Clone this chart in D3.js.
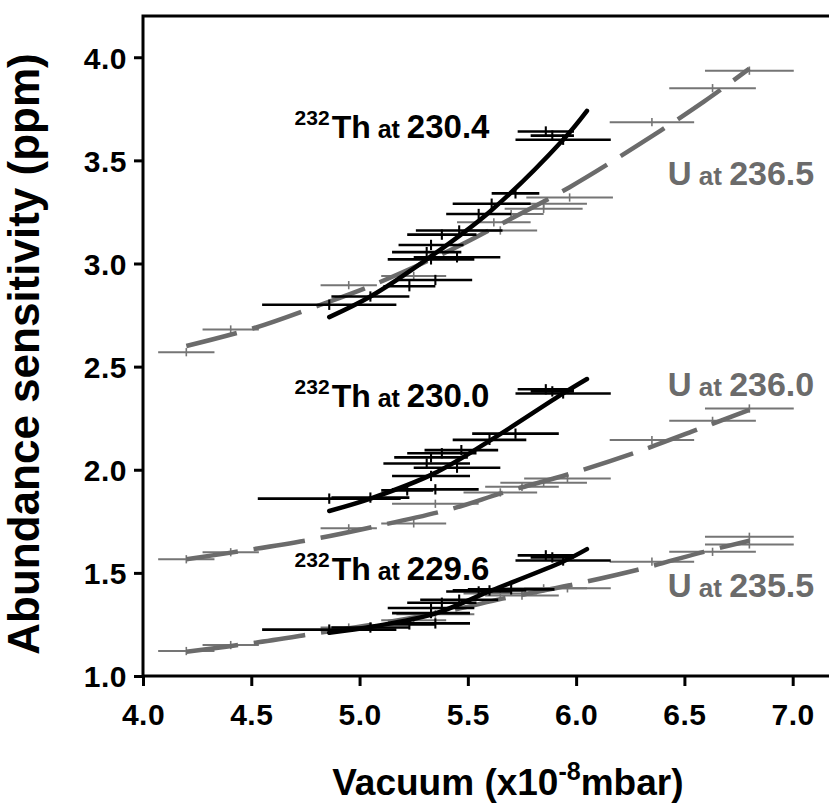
<!DOCTYPE html>
<html><head><meta charset="utf-8">
<script src="https://cdn.jsdelivr.net/npm/d3@7"></script>
<style>body{margin:0;background:#fff}svg{display:block}text{font-family:"Liberation Sans",Arial,sans-serif;font-weight:bold}</style>
</head><body>
<script>
// ---- data: [x (1e-8 mbar), abundance sensitivity (ppm), x error] ----
const th2304 = [[4.86,2.80,0.31],[5.05,2.84,0.18],[5.23,2.89,0.12],[5.35,2.92,0.17],[5.33,3.02,0.20],[5.45,3.03,0.20],[5.31,3.055,0.16],[5.33,3.09,0.15],[5.38,3.14,0.16],[5.46,3.16,0.20],[5.55,3.24,0.15],[5.61,3.29,0.18],[5.72,3.34,0.11],[5.86,3.64,0.13],[5.89,3.62,0.10],[5.94,3.60,0.22]];
const th2300 = [[4.86,1.86,0.33],[5.05,1.865,0.18],[5.22,1.90,0.12],[5.35,1.905,0.20],[5.33,1.97,0.18],[5.45,2.01,0.20],[5.31,2.03,0.20],[5.33,2.06,0.17],[5.38,2.08,0.16],[5.47,2.095,0.17],[5.60,2.145,0.17],[5.72,2.175,0.20],[5.86,2.39,0.13],[5.89,2.38,0.10],[5.94,2.37,0.22]];
const th2296 = [[4.86,1.225,0.31],[5.05,1.235,0.18],[5.23,1.25,0.12],[5.35,1.255,0.16],[5.33,1.305,0.18],[5.33,1.33,0.20],[5.38,1.355,0.16],[5.46,1.37,0.18],[5.55,1.41,0.15],[5.60,1.415,0.17],[5.70,1.42,0.20],[5.86,1.585,0.13],[5.89,1.575,0.10],[5.94,1.56,0.22]];
const u2365 = [[4.20,2.57,0.13],[4.405,2.68,0.13],[4.95,2.895,0.13],[5.25,2.94,0.15],[5.65,3.16,0.17],[5.62,3.20,0.17],[5.70,3.24,0.15],[5.85,3.265,0.18],[5.85,3.29,0.20],[5.97,3.32,0.20],[6.35,3.685,0.195],[6.63,3.85,0.20],[6.80,3.935,0.205]];
const u2360 = [[4.20,1.566,0.13],[4.405,1.60,0.13],[4.95,1.716,0.13],[5.25,1.74,0.15],[5.35,1.835,0.20],[5.65,1.89,0.17],[5.75,1.917,0.17],[5.85,1.937,0.20],[5.96,1.958,0.20],[6.35,2.144,0.195],[6.63,2.237,0.20],[6.80,2.297,0.205]];
const u2355 = [[4.20,1.121,0.13],[4.405,1.15,0.13],[4.95,1.235,0.13],[5.25,1.27,0.15],[5.35,1.30,0.18],[5.65,1.40,0.17],[5.75,1.39,0.17],[5.85,1.425,0.20],[5.96,1.425,0.20],[6.35,1.554,0.195],[6.63,1.602,0.20],[6.80,1.638,0.205],[6.80,1.675,0.205]];
// fitted trend curves
const fitTh2304 = [[4.86,2.74],[5.05,2.84],[5.31,3.02],[5.60,3.25],[5.94,3.60],[6.05,3.74]];
const fitTh2300 = [[4.86,1.80],[5.05,1.86],[5.34,1.98],[5.60,2.14],[5.94,2.37],[6.05,2.44]];
const fitTh2296 = [[4.86,1.21],[5.06,1.24],[5.34,1.30],[5.61,1.415],[5.94,1.555],[6.05,1.615]];
const fitU2365 = [[4.20,2.60],[4.51,2.686],[4.82,2.80],[5.06,2.895],[5.43,3.07],[5.66,3.195],[5.97,3.37],[6.28,3.57],[6.59,3.785],[6.80,3.945]];
const fitU2360 = [[4.20,1.566],[4.51,1.615],[4.82,1.67],[5.05,1.72],[5.43,1.812],[5.66,1.888],[5.97,1.98],[6.28,2.086],[6.59,2.207],[6.80,2.29]];
const fitU2355 = [[4.20,1.118],[4.51,1.16],[4.82,1.21],[5.05,1.247],[5.43,1.32],[5.66,1.375],[5.97,1.44],[6.28,1.514],[6.59,1.602],[6.80,1.656]];
const xTicks = [4.0,4.5,5.0,5.5,6.0,6.5,7.0];
const yTicks = [1.0,1.5,2.0,2.5,3.0,3.5,4.0];
const thLabels = [{iso:"232",el:"Th",at:"230.4",x:4.70,y:3.608},{iso:"232",el:"Th",at:"230.0",x:4.70,y:2.304},{iso:"232",el:"Th",at:"229.6",x:4.70,y:1.465}];
const uLabels = [{el:"U",at:"236.5",x:6.423,y:3.38},{el:"U",at:"236.0",x:6.423,y:2.357},{el:"U",at:"235.5",x:6.423,y:1.384}];
const yErrBlack = 0.025, yErrGray = 0.02;

const W = 829, H = 807;
const m = {left:143, top:16, right:-7, bottom:131};
const svg = d3.select("body").append("svg").attr("width",W).attr("height",H);
const x = d3.scaleLinear().domain([4.0,7.2]).range([m.left, W - m.right]);
const y = d3.scaleLinear().domain([1.0,4.2]).range([H - m.bottom, m.top]);
const BLACK = "#000", GRAY = "#6b6b6b", GRAYBAR = "#757575";

// frame
svg.append("rect").attr("x",x(4)).attr("y",y(4.2)).attr("width",x(7.2)-x(4)).attr("height",y(1)-y(4.2))
  .attr("fill","none").attr("stroke","#000").attr("stroke-width",3);

// axes
const xAx = svg.append("g").attr("transform",`translate(0,${y(1)})`)
  .call(d3.axisBottom(x).tickValues(xTicks).tickFormat(d3.format(".1f")).tickSize(10).tickSizeOuter(0));
const yAx = svg.append("g").attr("transform",`translate(${x(4)},0)`)
  .call(d3.axisLeft(y).tickValues(yTicks).tickFormat(d3.format(".1f")).tickSize(9).tickSizeOuter(0));
[xAx,yAx].forEach(g=>{g.attr("font-size",30).attr("font-family",null);
  g.select(".domain").remove();g.selectAll("line").attr("stroke","#000").attr("stroke-width",3);
  g.selectAll("text").attr("fill","#000").style("font-size","30px").style("letter-spacing","0.5px");});
xAx.selectAll("text").attr("dy","1.2em");
yAx.selectAll("text").attr("x",-16).attr("dy","0.36em");

// axis titles
svg.append("text").attr("transform",`translate(39,${(y(1)+y(4.2))/2+8}) rotate(-90)`).attr("text-anchor","middle")
  .style("font-size","44px").text("Abundance sensitivity (ppm)");
const xt = svg.append("text").attr("x",(x(4)+x(7))/2+40).attr("y",795).attr("text-anchor","middle").style("font-size","37px");
xt.append("tspan").text("Vacuum (x10");
xt.append("tspan").attr("dy",-15).style("font-size","25px").text("-8");
xt.append("tspan").attr("dy",15).text("mbar)");

const line = d3.line().x(d=>x(d[0])).y(d=>y(d[1])).curve(d3.curveCatmullRom.alpha(0.5));

function errBars(data, color, w, yErr){
  const g = svg.append("g").attr("stroke",color).attr("fill","none");
  g.selectAll("line.h").data(data).join("line").attr("class","h")
    .attr("x1",d=>x(d[0]-d[2])).attr("x2",d=>x(d[0]+d[2])).attr("y1",d=>y(d[1])).attr("y2",d=>y(d[1])).attr("stroke-width",w);
  g.selectAll("line.v").data(data).join("line").attr("class","v")
    .attr("x1",d=>x(d[0])).attr("x2",d=>x(d[0])).attr("y1",d=>y(d[1]-yErr)).attr("y2",d=>y(d[1]+yErr)).attr("stroke-width",w*0.8);
}
// gray U series
[u2365,u2360,u2355].forEach(s=>errBars(s,GRAYBAR,2,yErrGray));
[fitU2365,fitU2360,fitU2355].forEach(f=>svg.append("path").datum(f).attr("d",line).attr("fill","none")
  .attr("stroke",GRAY).attr("stroke-width",4.5).attr("stroke-dasharray","52,16"));
// black Th series
[th2304,th2300,th2296].forEach(s=>errBars(s,BLACK,2.6,yErrBlack));
[fitTh2304,fitTh2300,fitTh2296].forEach(f=>svg.append("path").datum(f).attr("d",line).attr("fill","none")
  .attr("stroke",BLACK).attr("stroke-width",4.5).attr("stroke-linecap","round"));

// labels
thLabels.forEach(l=>{
  const t = svg.append("text").attr("x",x(l.x)).attr("y",y(l.y)).attr("fill","#000");
  t.append("tspan").attr("dy",-13).style("font-size","21px").text(l.iso);
  t.append("tspan").attr("dy",13).attr("dx",2).style("font-size","32px").text(l.el);
  t.append("tspan").style("font-size","25px").text(" at ");
  t.append("tspan").style("font-size","33px").text(l.at);
});
uLabels.forEach(l=>{
  const t = svg.append("text").attr("x",x(l.x)).attr("y",y(l.y)).attr("fill",GRAY);
  t.append("tspan").style("font-size","33px").text(l.el);
  t.append("tspan").style("font-size","26px").text(" at ");
  t.append("tspan").style("font-size","34px").text(l.at);
});
</script>
</body></html>
